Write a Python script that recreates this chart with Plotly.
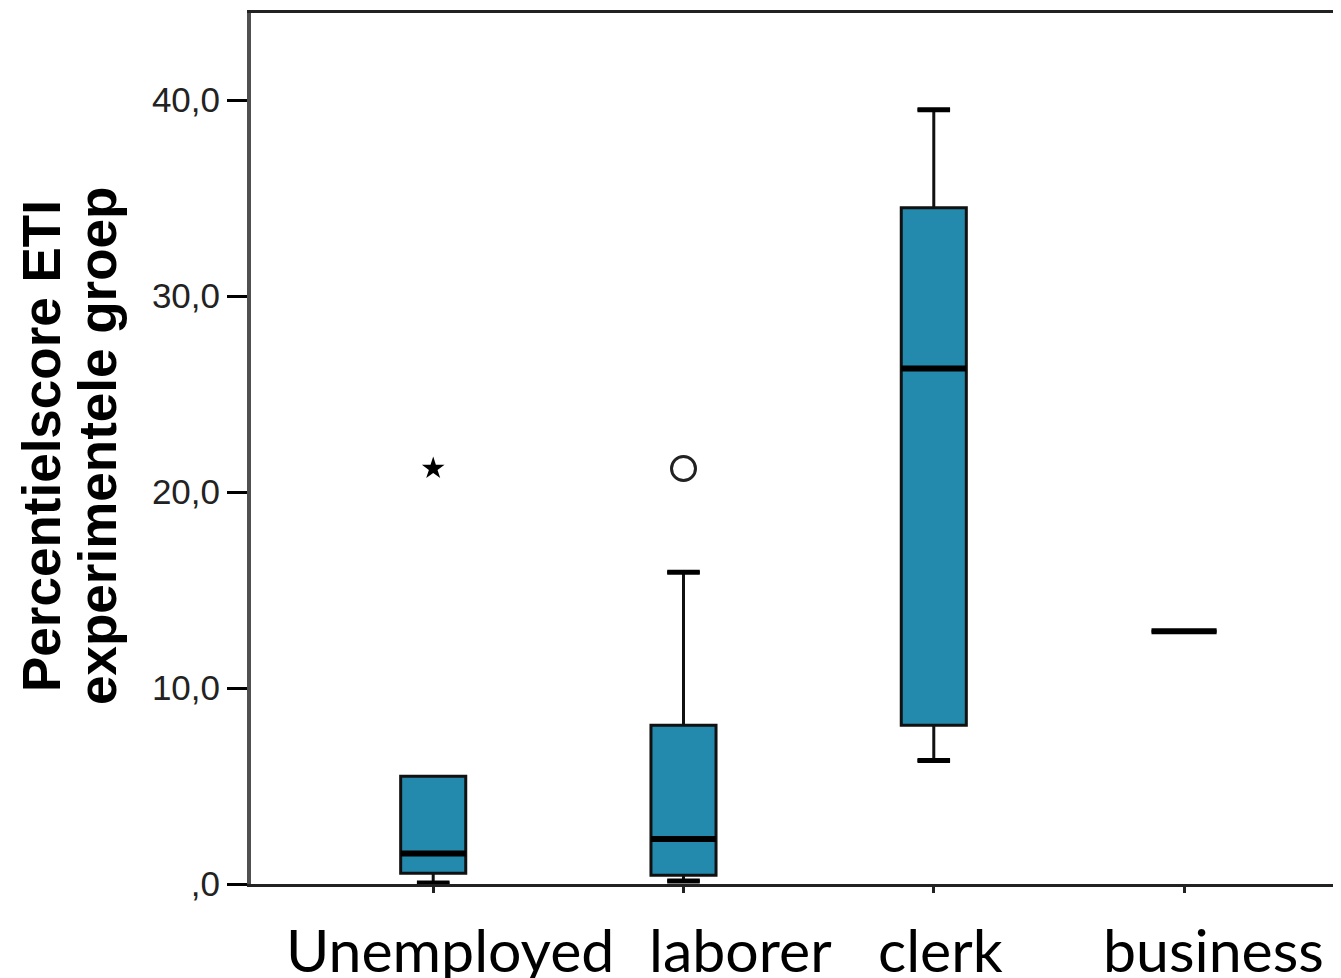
import plotly.graph_objects as go

# ---- data ----
categories = ["Unemployed", "laborer", "clerk", "business"]
q1_vals = [0.55, 0.45, 8.1, 12.9]
median_vals = [1.55, 2.3, 26.3, 12.9]
q3_vals = [5.5, 8.1, 34.5, 12.9]
lower_whisker = [0.05, 0.15, 6.3, 12.9]
upper_whisker = [5.5, 15.9, 39.5, 12.9]

# outliers
extreme_x = [0]
extreme_y = [21.2]
outlier_x = [1]
outlier_y = [21.2]

y_tickvals = [0, 10, 20, 30, 40]
y_ticktext = [",0", "10,0", "20,0", "30,0", "40,0"]
y_title_lines = ["Percentielscore ETI", "experimentele groep"]

# ---- styling ----
BOX_FILL = "#238AAD"
BOX_W = 0.26
CAP_HALF = BOX_W * 0.25
label_xshift = [17, 57, 7, 29]

# page body has an 8px margin; compensate so the plot lands where the reference has it
OFF = 8
W, H = 1341 - OFF, 978 - OFF
L, T, B = 243, 13 - OFF, 94
pw = W - L
ph = H - T - B

positions = list(range(len(categories)))

fig = go.Figure()

for i, pos in enumerate(positions):
    fig.add_trace(go.Box(
        x=[pos], q1=[q1_vals[i]], median=[median_vals[i]], q3=[q3_vals[i]],
        lowerfence=[lower_whisker[i]], upperfence=[upper_whisker[i]],
        width=BOX_W, whiskerwidth=0.5, boxpoints=False,
        fillcolor=BOX_FILL, line=dict(color="#111111", width=3),
        showlegend=False, hoverinfo="skip",
    ))

# thick median lines
mx, my = [], []
for i, pos in enumerate(positions):
    mx += [pos - BOX_W / 2, pos + BOX_W / 2, None]
    my += [median_vals[i], median_vals[i], None]
fig.add_trace(go.Scatter(x=mx, y=my, mode="lines",
                         line=dict(color="black", width=6), showlegend=False,
                         hoverinfo="skip"))

# thicker whisker caps
cx, cy = [], []
for i, pos in enumerate(positions):
    if lower_whisker[i] < q1_vals[i]:
        cx += [pos - CAP_HALF, pos + CAP_HALF, None]
        cy += [lower_whisker[i], lower_whisker[i], None]
    if upper_whisker[i] > q3_vals[i]:
        cx += [pos - CAP_HALF, pos + CAP_HALF, None]
        cy += [upper_whisker[i], upper_whisker[i], None]
fig.add_trace(go.Scatter(x=cx, y=cy, mode="lines",
                         line=dict(color="black", width=5), showlegend=False,
                         hoverinfo="skip"))

# outliers
fig.add_trace(go.Scatter(x=extreme_x, y=extreme_y, mode="markers",
                         marker=dict(symbol="star", size=17, color="black"),
                         showlegend=False, hoverinfo="skip"))
fig.add_trace(go.Scatter(x=outlier_x, y=outlier_y, mode="markers",
                         marker=dict(symbol="circle-open", size=24, color="#222222",
                                     line=dict(width=3)),
                         showlegend=False, hoverinfo="skip"))

# category labels
for i, pos in enumerate(positions):
    fig.add_annotation(x=pos, y=0, xref="x", yref="paper", text=categories[i],
                       showarrow=False, yanchor="top", xanchor="center",
                       xshift=label_xshift[i], yshift=-28,
                       font=dict(family="Lato", size=59, color="black"))

# y-axis title lines (page-pixel centres converted to paper coords)
title_px = [41, 97]
title_py = 446
for j, line in enumerate(y_title_lines):
    fig.add_annotation(x=(title_px[j] - OFF - L) / pw,
                       y=(H - B - (title_py - OFF)) / ph,
                       xref="paper", yref="paper",
                       text="<b>" + line + "</b>", showarrow=False, textangle=-90,
                       xanchor="center", yanchor="middle",
                       font=dict(family="Liberation Sans, Arial", size=53, color="black"))

fig.update_layout(
    width=W, height=H,
    margin=dict(l=L, r=0, t=T, b=B, pad=0),
    plot_bgcolor="white", paper_bgcolor="white",
    xaxis=dict(range=[-0.728, 3.627], tickvals=positions, ticktext=[""] * len(positions),
               ticks="outside", ticklen=6, tickwidth=3, tickcolor="#222222",
               showline=True, linecolor="#222222", linewidth=3, mirror=True,
               showgrid=False, zeroline=False),
    yaxis=dict(range=[0, 44.44], tickvals=y_tickvals, ticktext=y_ticktext,
               ticks="outside", ticklen=20, tickwidth=3, tickcolor="black",
               tickfont=dict(family="Liberation Sans, Arial", size=35, color="#222222"),
               showline=True, linecolor="#505050", linewidth=4,
               showgrid=False, zeroline=False),
)

fig.write_html("out.html")
